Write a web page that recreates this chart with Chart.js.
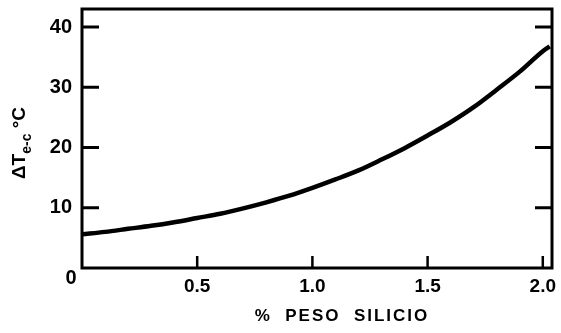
<!DOCTYPE html>
<html>
<head>
<meta charset="utf-8">
<script src="https://cdn.jsdelivr.net/npm/chart.js@4.4.1/dist/chart.umd.min.js"></script>
<style>
  html, body { margin: 0; padding: 0; background: #fff; }
  #wrap { width: 561px; height: 333px; }
</style>
</head>
<body>
<div id="wrap"><canvas id="grafico" width="561" height="333"></canvas></div>
<script>
// % peso silicio vs delta T
const silicio = [0, 0.1, 0.2, 0.3, 0.4, 0.5, 0.6, 0.7, 0.8, 0.9, 1.0, 1.1, 1.2, 1.3, 1.4, 1.5, 1.6, 1.7, 1.8, 1.9, 2.0, 2.03];
const deltaT  = [5.6, 6.0, 6.5, 7.0, 7.6, 8.3, 9.0, 9.9, 10.9, 12.0, 13.3, 14.7, 16.2, 18.0, 19.9, 22.0, 24.2, 26.7, 29.6, 32.6, 36.0, 36.8];
const xTicks = [0.5, 1.0, 1.5, 2.0];
const yTicks = [0, 10, 20, 30, 40];

const fuente = "'Liberation Sans', Arial, sans-serif";
const puntos = silicio.map((x, i) => ({ x: x, y: deltaT[i] }));

// marco, marcas hacia dentro y textos de los ejes
const marco = {
  id: 'marco',
  afterDraw(chart) {
    const ctx = chart.ctx;
    const a = chart.chartArea;
    const xs = chart.scales.x, ys = chart.scales.y;
    ctx.save();
    ctx.strokeStyle = '#000';
    ctx.lineWidth = 3;
    ctx.strokeRect(a.left, a.top, a.right - a.left, a.bottom - a.top);

    ctx.lineWidth = 3;
    yTicks.forEach(v => {
      if (v === 0) return;
      const py = ys.getPixelForValue(v);
      ctx.beginPath();
      ctx.moveTo(a.left, py); ctx.lineTo(a.left + 17, py);
      ctx.moveTo(a.right, py); ctx.lineTo(a.right - 17, py);
      ctx.stroke();
    });
    ctx.lineWidth = 2.5;
    xTicks.forEach(v => {
      const px = xs.getPixelForValue(v);
      ctx.beginPath();
      ctx.moveTo(px, a.bottom); ctx.lineTo(px, a.bottom - 12);
      ctx.stroke();
    });

    ctx.fillStyle = '#000';
    // el cero de la esquina
    ctx.font = 'bold 20px ' + fuente;
    ctx.textAlign = 'center';
    ctx.textBaseline = 'middle';
    ctx.fillText('0', 71, ys.getPixelForValue(0) + 10);

    // titulo eje x
    ctx.font = 'bold 17px ' + fuente;
    ctx.letterSpacing = '2px';
    ctx.fillText('%  PESO  SILICIO', 342, 316);
    ctx.letterSpacing = '0px';

    // titulo eje y (girado)
    ctx.translate(25, 143);
    ctx.rotate(-Math.PI / 2);
    ctx.textAlign = 'left';
    ctx.textBaseline = 'alphabetic';
    const f1 = 'bold 19px ' + fuente, f2 = 'bold 14px ' + fuente;
    ctx.font = f1; const w1 = ctx.measureText('\u0394T').width;
    ctx.font = f2; const w2 = ctx.measureText('e-c').width;
    ctx.font = f1; const w3 = ctx.measureText(' \u00b0C').width;
    let x0 = -(w1 + w2 + w3) / 2;
    ctx.font = f1; ctx.fillText('\u0394T', x0, 0);
    ctx.font = f2; ctx.fillText('e-c', x0 + w1, 6);
    ctx.font = f1; ctx.fillText(' \u00b0C', x0 + w1 + w2, 0);
    ctx.restore();
  }
};

new Chart(document.getElementById('grafico'), {
  type: 'line',
  data: {
    datasets: [{
      data: puntos,
      borderColor: '#000',
      borderWidth: 4.5,
      pointRadius: 0,
      cubicInterpolationMode: 'monotone',
      fill: false
    }]
  },
  options: {
    responsive: false,
    animation: false,
    devicePixelRatio: 1,
    layout: { padding: { left: 0, right: 9, top: 9, bottom: 0 } },
    plugins: { legend: { display: false }, tooltip: { enabled: false } },
    scales: {
      x: {
        type: 'linear',
        min: 0,
        max: 2.04,
        grid: { display: false, drawTicks: false },
        border: { display: false },
        afterFit: s => { s.height = 65; s.paddingLeft = 0; s.paddingRight = 0; },
        afterBuildTicks: s => { s.ticks = xTicks.map(v => ({ value: v })); },
        ticks: {
          color: '#000',
          padding: 7,
          maxRotation: 0,
          font: { family: fuente, size: 19, weight: 'bold' },
          callback: v => v.toFixed(1)
        }
      },
      y: {
        type: 'linear',
        min: 0,
        max: 43,
        grid: { display: false, drawTicks: false },
        border: { display: false },
        afterFit: s => { s.width = 82; s.paddingTop = 0; s.paddingBottom = 0; },
        afterBuildTicks: s => { s.ticks = yTicks.map(v => ({ value: v })); },
        ticks: {
          color: '#000',
          padding: 10,
          font: { family: fuente, size: 20, weight: 'bold' },
          callback: v => (v === 0 ? '' : String(v))
        }
      }
    }
  },
  plugins: [marco]
});
</script>
</body>
</html>
